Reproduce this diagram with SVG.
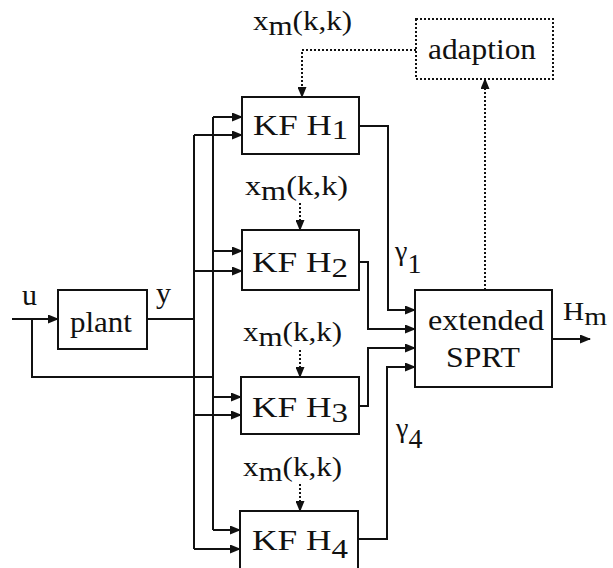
<svg xmlns="http://www.w3.org/2000/svg" width="613" height="568" viewBox="0 0 613 568" font-family="Liberation Serif, serif">
<defs>
<marker id="ah" markerWidth="11" markerHeight="9" refX="10" refY="4.5" orient="auto" markerUnits="userSpaceOnUse">
<path d="M0,0 L11,4.5 L0,9 z" fill="#111"/>
</marker>
<style>
.box{fill:#fff;stroke:#111;stroke-width:2}
.dbox{fill:#fff;stroke:#111;stroke-width:2;stroke-dasharray:2,2}
.ln{fill:none;stroke:#111;stroke-width:2}
.dl{fill:none;stroke:#111;stroke-width:2;stroke-dasharray:2,2}
.t{font-family:'Liberation Serif',serif;font-size:30px;fill:#111}
.s{font-family:'Liberation Serif',serif;font-size:28px;fill:#111}
.h{font-family:'Liberation Serif',serif;font-size:26px;fill:#111}
</style>
</defs>
<rect width="613" height="568" fill="#fff"/>
<g id="connectors">
<path class="ln" d="M12,319 H58" marker-end="url(#ah)"/>
<path class="ln" d="M32,319 V377 H213"/>
<path class="ln" d="M147,319 H194"/>
<path class="ln" d="M213,117 V530"/>
<path class="ln" d="M194,135 V549"/>
<path class="ln" d="M213,117 H242" marker-end="url(#ah)"/>
<path class="ln" d="M194,135 H242" marker-end="url(#ah)"/>
<path class="ln" d="M213,251 H242" marker-end="url(#ah)"/>
<path class="ln" d="M194,271 H242" marker-end="url(#ah)"/>
<path class="ln" d="M213,397 H241" marker-end="url(#ah)"/>
<path class="ln" d="M194,415 H241" marker-end="url(#ah)"/>
<path class="ln" d="M213,530 H240" marker-end="url(#ah)"/>
<path class="ln" d="M194,549 H240" marker-end="url(#ah)"/>
<path class="ln" d="M359,126 H388 V310 H415" marker-end="url(#ah)"/>
<path class="ln" d="M359,262 H368 V329 H415" marker-end="url(#ah)"/>
<path class="ln" d="M359,406 H368 V348 H415" marker-end="url(#ah)"/>
<path class="ln" d="M358,539 H387 V367 H415" marker-end="url(#ah)"/>
<path class="ln" d="M552,339 H590" marker-end="url(#ah)"/>
<path class="dl" d="M416,50 H302 V97" marker-end="url(#ah)"/>
<path class="dl" d="M300,203 V230" marker-end="url(#ah)"/>
<path class="dl" d="M300,350 V377" marker-end="url(#ah)"/>
<path class="dl" d="M300,484 V511" marker-end="url(#ah)"/>
<path class="dl" d="M485,290 V79" marker-end="url(#ah)"/>
</g>
<g id="plant">
<rect class="box" x="58" y="290" width="89" height="59"/>
<text class="t" x="70" y="332" textLength="62" lengthAdjust="spacingAndGlyphs">plant</text>
</g>
<g id="kf1">
<rect class="box" x="242" y="97" width="117" height="57"/>
<text class="t" x="253" y="135" textLength="95" lengthAdjust="spacingAndGlyphs">KF  H<tspan dy="4" font-size="28">1</tspan></text>
</g>
<g id="kf2">
<rect class="box" x="242" y="230" width="117" height="60"/>
<text class="t" x="252" y="272" textLength="96" lengthAdjust="spacingAndGlyphs">KF  H<tspan dy="5" font-size="28">2</tspan></text>
</g>
<g id="kf3">
<rect class="box" x="241" y="377" width="118" height="57"/>
<text class="t" x="252" y="417" textLength="96" lengthAdjust="spacingAndGlyphs">KF  H<tspan dy="5" font-size="28">3</tspan></text>
</g>
<g id="kf4">
<rect class="box" x="240" y="511" width="118" height="70"/>
<text class="t" x="252" y="550" textLength="96" lengthAdjust="spacingAndGlyphs">KF  H<tspan dy="8" font-size="28">4</tspan></text>
</g>
<g id="adaption">
<rect class="dbox" x="416" y="19" width="137" height="60"/>
<text class="t" x="428" y="59" textLength="108" lengthAdjust="spacingAndGlyphs">adaption</text>
</g>
<g id="sprt">
<rect class="box" x="415" y="290" width="137" height="97"/>
<text class="t" x="428" y="330" textLength="116" lengthAdjust="spacingAndGlyphs">extended</text>
<text class="t" x="446" y="367" textLength="74" lengthAdjust="spacingAndGlyphs">SPRT</text>
</g>
<g id="labels">
<text class="t" x="22" y="305">u</text>
<text class="t" x="156" y="303">y</text>
<text class="s" x="253" y="30" textLength="99" lengthAdjust="spacingAndGlyphs">x<tspan dy="5">m</tspan><tspan dy="-5">(k,k)</tspan></text>
<text class="s" x="245" y="195" textLength="103" lengthAdjust="spacingAndGlyphs">x<tspan dy="5">m</tspan><tspan dy="-5">(k,k)</tspan></text>
<text class="s" x="243" y="341" textLength="99" lengthAdjust="spacingAndGlyphs">x<tspan dy="5">m</tspan><tspan dy="-5">(k,k)</tspan></text>
<text class="s" x="243" y="476" textLength="99" lengthAdjust="spacingAndGlyphs">x<tspan dy="5">m</tspan><tspan dy="-5">(k,k)</tspan></text>
<text class="s" x="395" y="260">γ<tspan dy="13">1</tspan></text>
<text class="s" x="396" y="437">γ<tspan dy="11">4</tspan></text>
<text class="h" x="563" y="320" textLength="44" lengthAdjust="spacingAndGlyphs">H<tspan dy="5">m</tspan></text>
</g>
</svg>
